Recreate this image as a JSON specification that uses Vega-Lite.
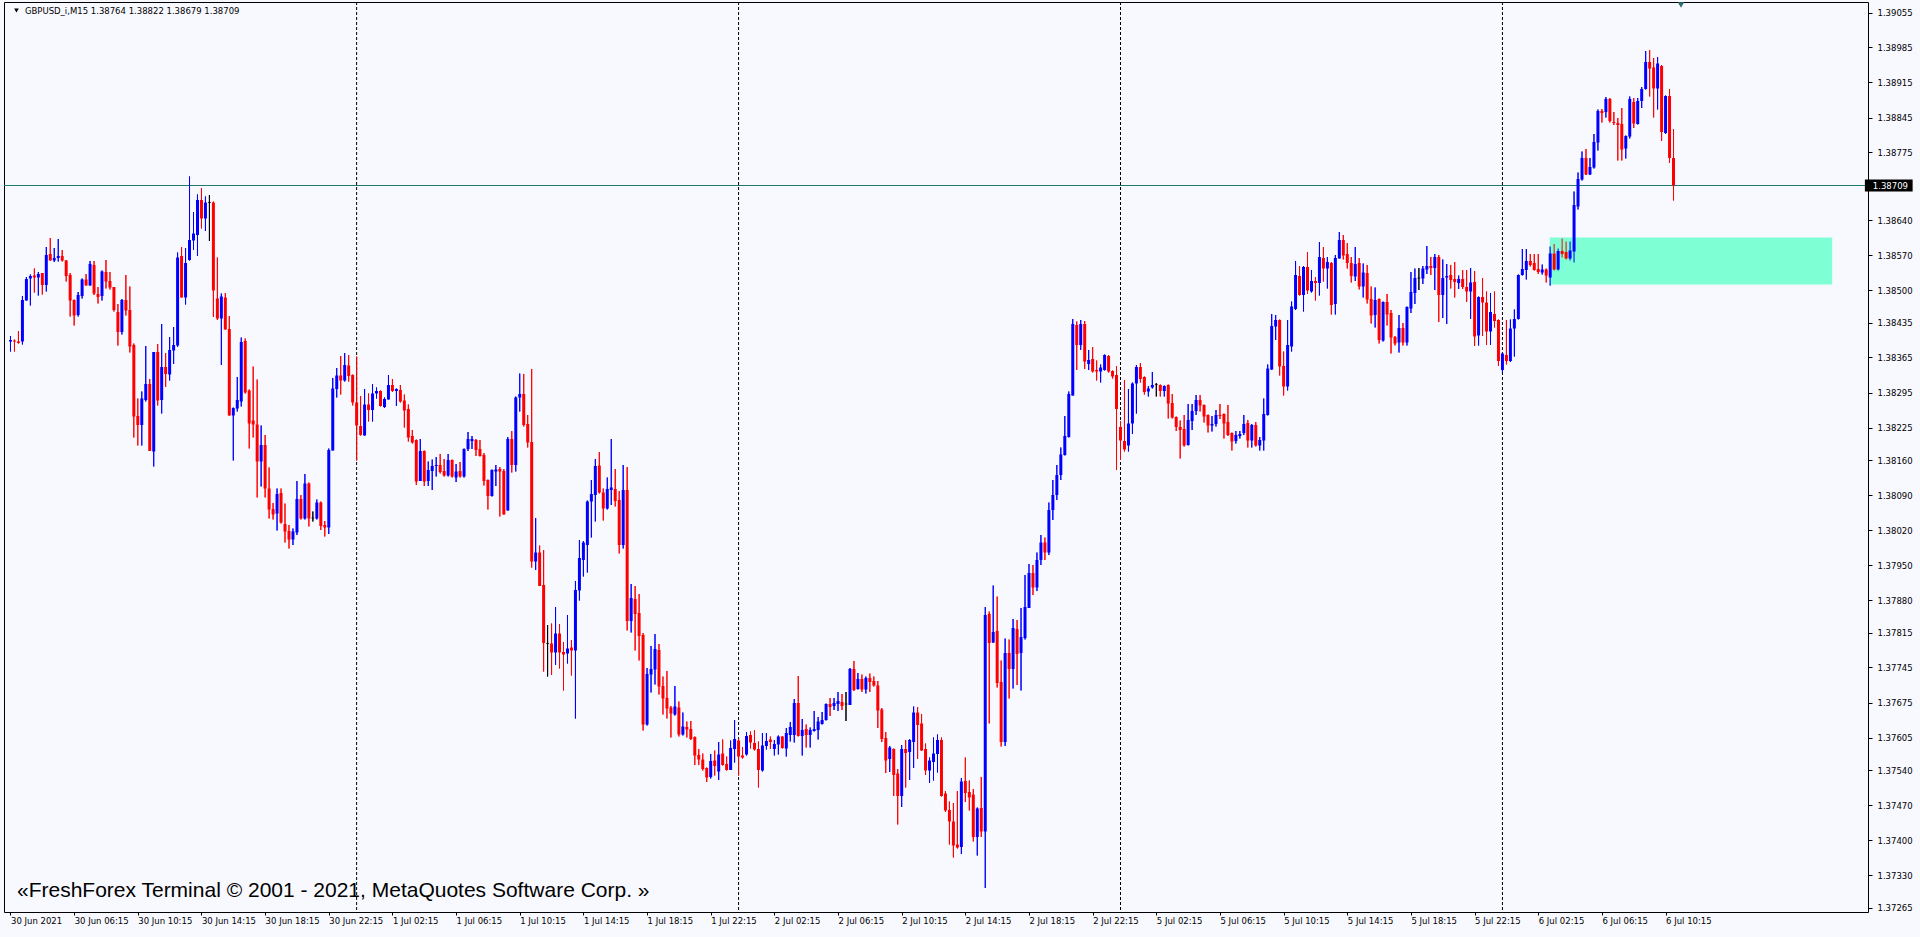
{
"$schema": "https://vega.github.io/schema/vega-lite/v6.json",
"width": 1864, "height": 910,
"autosize": {"type": "none"},
"padding": {"left": 4, "top": 2, "right": 52, "bottom": 25},
"background": "#F8F8FF",
"config": {"view": {"stroke": "#000000", "strokeWidth": 1, "fill": "#F8F8FF"}},
"datasets": {
"candles": [
{"i":0,"o":1.38397,"h":1.38408,"l":1.38377,"c":1.38400},
{"i":1,"o":1.38399,"h":1.38401,"l":1.38377,"c":1.38397},
{"i":2,"o":1.38397,"h":1.38418,"l":1.38393,"c":1.38394},
{"i":3,"o":1.38397,"h":1.38488,"l":1.38391,"c":1.38480},
{"i":4,"o":1.38479,"h":1.38526,"l":1.38479,"c":1.38522},
{"i":5,"o":1.38523,"h":1.38531,"l":1.38469,"c":1.38528},
{"i":6,"o":1.38529,"h":1.38543,"l":1.38495,"c":1.38525},
{"i":7,"o":1.38525,"h":1.38536,"l":1.38489,"c":1.38532},
{"i":8,"o":1.38534,"h":1.38534,"l":1.38491,"c":1.38510},
{"i":9,"o":1.38510,"h":1.38586,"l":1.38497,"c":1.38570},
{"i":10,"o":1.38572,"h":1.38604,"l":1.38559,"c":1.38559},
{"i":11,"o":1.38559,"h":1.38584,"l":1.38556,"c":1.38564},
{"i":12,"o":1.38564,"h":1.38602,"l":1.38557,"c":1.38568},
{"i":13,"o":1.38568,"h":1.38580,"l":1.38557,"c":1.38559},
{"i":14,"o":1.38559,"h":1.38560,"l":1.38517,"c":1.38528},
{"i":15,"o":1.38530,"h":1.38534,"l":1.38447,"c":1.38479},
{"i":16,"o":1.38480,"h":1.38481,"l":1.38429,"c":1.38449},
{"i":17,"o":1.38450,"h":1.38496,"l":1.38447,"c":1.38490},
{"i":18,"o":1.38488,"h":1.38523,"l":1.38483,"c":1.38521},
{"i":19,"o":1.38521,"h":1.38532,"l":1.38509,"c":1.38509},
{"i":20,"o":1.38509,"h":1.38558,"l":1.38509,"c":1.38552},
{"i":21,"o":1.38550,"h":1.38558,"l":1.38490,"c":1.38493},
{"i":22,"o":1.38492,"h":1.38506,"l":1.38473,"c":1.38486},
{"i":23,"o":1.38488,"h":1.38539,"l":1.38479,"c":1.38537},
{"i":24,"o":1.38536,"h":1.38560,"l":1.38503,"c":1.38517},
{"i":25,"o":1.38518,"h":1.38536,"l":1.38501,"c":1.38505},
{"i":26,"o":1.38506,"h":1.38506,"l":1.38457,"c":1.38460},
{"i":27,"o":1.38456,"h":1.38472,"l":1.38389,"c":1.38416},
{"i":28,"o":1.38416,"h":1.38482,"l":1.38411,"c":1.38480},
{"i":29,"o":1.38480,"h":1.38530,"l":1.38449,"c":1.38459},
{"i":30,"o":1.38460,"h":1.38507,"l":1.38375,"c":1.38387},
{"i":31,"o":1.38390,"h":1.38393,"l":1.38205,"c":1.38247},
{"i":32,"o":1.38248,"h":1.38283,"l":1.38189,"c":1.38230},
{"i":33,"o":1.38230,"h":1.38297,"l":1.38189,"c":1.38283},
{"i":34,"o":1.38280,"h":1.38388,"l":1.38277,"c":1.38312},
{"i":35,"o":1.38312,"h":1.38322,"l":1.38178,"c":1.38178},
{"i":36,"o":1.38177,"h":1.38376,"l":1.38147,"c":1.38376},
{"i":37,"o":1.38376,"h":1.38392,"l":1.38269,"c":1.38279},
{"i":38,"o":1.38280,"h":1.38432,"l":1.38253,"c":1.38346},
{"i":39,"o":1.38346,"h":1.38374,"l":1.38306,"c":1.38332},
{"i":40,"o":1.38331,"h":1.38406,"l":1.38319,"c":1.38380},
{"i":41,"o":1.38379,"h":1.38426,"l":1.38352,"c":1.38390},
{"i":42,"o":1.38389,"h":1.38575,"l":1.38386,"c":1.38565},
{"i":43,"o":1.38568,"h":1.38586,"l":1.38485,"c":1.38485},
{"i":44,"o":1.38485,"h":1.38584,"l":1.38471,"c":1.38554},
{"i":45,"o":1.38560,"h":1.38727,"l":1.38559,"c":1.38600},
{"i":46,"o":1.38599,"h":1.38656,"l":1.38580,"c":1.38613},
{"i":47,"o":1.38610,"h":1.38691,"l":1.38568,"c":1.38680},
{"i":48,"o":1.38680,"h":1.38704,"l":1.38623,"c":1.38643},
{"i":49,"o":1.38643,"h":1.38687,"l":1.38618,"c":1.38675},
{"i":50,"o":1.38675,"h":1.38690,"l":1.38598,"c":1.38675},
{"i":51,"o":1.38675,"h":1.38677,"l":1.38446,"c":1.38499},
{"i":52,"o":1.38483,"h":1.38565,"l":1.38440,"c":1.38443},
{"i":53,"o":1.38443,"h":1.38493,"l":1.38350,"c":1.38487},
{"i":54,"o":1.38485,"h":1.38494,"l":1.38421,"c":1.38421},
{"i":55,"o":1.38422,"h":1.38448,"l":1.38249,"c":1.38249},
{"i":56,"o":1.38249,"h":1.38265,"l":1.38159,"c":1.38264},
{"i":57,"o":1.38263,"h":1.38326,"l":1.38257,"c":1.38280},
{"i":58,"o":1.38277,"h":1.38405,"l":1.38267,"c":1.38396},
{"i":59,"o":1.38398,"h":1.38403,"l":1.38293,"c":1.38295},
{"i":60,"o":1.38299,"h":1.38301,"l":1.38183,"c":1.38233},
{"i":61,"o":1.38239,"h":1.38347,"l":1.38205,"c":1.38231},
{"i":62,"o":1.38231,"h":1.38321,"l":1.38085,"c":1.38157},
{"i":63,"o":1.38157,"h":1.38229,"l":1.38107,"c":1.38190},
{"i":64,"o":1.38190,"h":1.38210,"l":1.38085,"c":1.38103},
{"i":65,"o":1.38103,"h":1.38145,"l":1.38043,"c":1.38061},
{"i":66,"o":1.38062,"h":1.38074,"l":1.38041,"c":1.38051},
{"i":67,"o":1.38053,"h":1.38103,"l":1.38019,"c":1.38092},
{"i":68,"o":1.38094,"h":1.38103,"l":1.38033,"c":1.38035},
{"i":69,"o":1.38032,"h":1.38073,"l":1.37995,"c":1.38017},
{"i":70,"o":1.38018,"h":1.38030,"l":1.37983,"c":1.38001},
{"i":71,"o":1.38001,"h":1.38023,"l":1.37990,"c":1.38017},
{"i":72,"o":1.38015,"h":1.38118,"l":1.38010,"c":1.38082},
{"i":73,"o":1.38082,"h":1.38090,"l":1.38041,"c":1.38043},
{"i":74,"o":1.38043,"h":1.38132,"l":1.38041,"c":1.38113},
{"i":75,"o":1.38113,"h":1.38115,"l":1.38027,"c":1.38043},
{"i":76,"o":1.38044,"h":1.38057,"l":1.38037,"c":1.38044},
{"i":77,"o":1.38043,"h":1.38081,"l":1.38041,"c":1.38075},
{"i":78,"o":1.38075,"h":1.38077,"l":1.38020,"c":1.38028},
{"i":79,"o":1.38030,"h":1.38038,"l":1.38007,"c":1.38025},
{"i":80,"o":1.38025,"h":1.38183,"l":1.38012,"c":1.38180},
{"i":81,"o":1.38179,"h":1.38324,"l":1.38179,"c":1.38303},
{"i":82,"o":1.38302,"h":1.38344,"l":1.38285,"c":1.38329},
{"i":83,"o":1.38329,"h":1.38368,"l":1.38291,"c":1.38319},
{"i":84,"o":1.38319,"h":1.38374,"l":1.38317,"c":1.38350},
{"i":85,"o":1.38349,"h":1.38370,"l":1.38317,"c":1.38328},
{"i":86,"o":1.38330,"h":1.38331,"l":1.38269,"c":1.38275},
{"i":87,"o":1.38275,"h":1.38367,"l":1.38159,"c":1.38229},
{"i":88,"o":1.38228,"h":1.38288,"l":1.38209,"c":1.38210},
{"i":89,"o":1.38209,"h":1.38302,"l":1.38209,"c":1.38271},
{"i":90,"o":1.38271,"h":1.38293,"l":1.38237,"c":1.38260},
{"i":91,"o":1.38260,"h":1.38312,"l":1.38237,"c":1.38293},
{"i":92,"o":1.38293,"h":1.38305,"l":1.38283,"c":1.38298},
{"i":93,"o":1.38298,"h":1.38299,"l":1.38267,"c":1.38268},
{"i":94,"o":1.38266,"h":1.38285,"l":1.38264,"c":1.38282},
{"i":95,"o":1.38281,"h":1.38330,"l":1.38281,"c":1.38310},
{"i":96,"o":1.38310,"h":1.38322,"l":1.38296,"c":1.38298},
{"i":97,"o":1.38298,"h":1.38303,"l":1.38268,"c":1.38302},
{"i":98,"o":1.38300,"h":1.38310,"l":1.38275,"c":1.38277},
{"i":99,"o":1.38279,"h":1.38291,"l":1.38225,"c":1.38259},
{"i":100,"o":1.38262,"h":1.38271,"l":1.38197,"c":1.38205},
{"i":101,"o":1.38208,"h":1.38220,"l":1.38193,"c":1.38195},
{"i":102,"o":1.38200,"h":1.38201,"l":1.38110,"c":1.38117},
{"i":103,"o":1.38118,"h":1.38202,"l":1.38118,"c":1.38178},
{"i":104,"o":1.38178,"h":1.38179,"l":1.38108,"c":1.38117},
{"i":105,"o":1.38118,"h":1.38157,"l":1.38108,"c":1.38140},
{"i":106,"o":1.38138,"h":1.38161,"l":1.38100,"c":1.38148},
{"i":107,"o":1.38148,"h":1.38166,"l":1.38127,"c":1.38150},
{"i":108,"o":1.38150,"h":1.38172,"l":1.38133,"c":1.38136},
{"i":109,"o":1.38138,"h":1.38162,"l":1.38127,"c":1.38129},
{"i":110,"o":1.38129,"h":1.38172,"l":1.38127,"c":1.38160},
{"i":111,"o":1.38160,"h":1.38161,"l":1.38125,"c":1.38127},
{"i":112,"o":1.38125,"h":1.38152,"l":1.38116,"c":1.38137},
{"i":113,"o":1.38138,"h":1.38156,"l":1.38125,"c":1.38127},
{"i":114,"o":1.38127,"h":1.38183,"l":1.38125,"c":1.38182},
{"i":115,"o":1.38182,"h":1.38216,"l":1.38178,"c":1.38202},
{"i":116,"o":1.38198,"h":1.38208,"l":1.38182,"c":1.38202},
{"i":117,"o":1.38200,"h":1.38202,"l":1.38168,"c":1.38180},
{"i":118,"o":1.38182,"h":1.38200,"l":1.38167,"c":1.38168},
{"i":119,"o":1.38170,"h":1.38174,"l":1.38109,"c":1.38118},
{"i":120,"o":1.38120,"h":1.38121,"l":1.38061,"c":1.38088},
{"i":121,"o":1.38088,"h":1.38141,"l":1.38087,"c":1.38140},
{"i":122,"o":1.38137,"h":1.38150,"l":1.38108,"c":1.38141},
{"i":123,"o":1.38142,"h":1.38146,"l":1.38047,"c":1.38137},
{"i":124,"o":1.38138,"h":1.38142,"l":1.38051,"c":1.38051},
{"i":125,"o":1.38059,"h":1.38206,"l":1.38059,"c":1.38202},
{"i":126,"o":1.38202,"h":1.38218,"l":1.38135,"c":1.38150},
{"i":127,"o":1.38150,"h":1.38287,"l":1.38137,"c":1.38285},
{"i":128,"o":1.38285,"h":1.38333,"l":1.38257,"c":1.38292},
{"i":129,"o":1.38292,"h":1.38332,"l":1.38227,"c":1.38230},
{"i":130,"o":1.38232,"h":1.38250,"l":1.38185,"c":1.38195},
{"i":131,"o":1.38196,"h":1.38342,"l":1.37945,"c":1.37957},
{"i":132,"o":1.37957,"h":1.38044,"l":1.37940,"c":1.37975},
{"i":133,"o":1.37975,"h":1.37989,"l":1.37908,"c":1.37908},
{"i":134,"o":1.37910,"h":1.37980,"l":1.37737,"c":1.37794},
{"i":135,"o":1.37793,"h":1.37830,"l":1.37727,"c":1.37793},
{"i":136,"o":1.37793,"h":1.37833,"l":1.37730,"c":1.37775},
{"i":137,"o":1.37775,"h":1.37866,"l":1.37750,"c":1.37813},
{"i":138,"o":1.37813,"h":1.37832,"l":1.37743,"c":1.37775},
{"i":139,"o":1.37776,"h":1.37796,"l":1.37699,"c":1.37771},
{"i":140,"o":1.37773,"h":1.37850,"l":1.37753,"c":1.37783},
{"i":141,"o":1.37785,"h":1.37800,"l":1.37729,"c":1.37779},
{"i":142,"o":1.37779,"h":1.37918,"l":1.37643,"c":1.37900},
{"i":143,"o":1.37899,"h":1.38000,"l":1.37879,"c":1.37964},
{"i":144,"o":1.37960,"h":1.37998,"l":1.37927,"c":1.37995},
{"i":145,"o":1.37990,"h":1.38079,"l":1.37935,"c":1.38077},
{"i":146,"o":1.38077,"h":1.38120,"l":1.38005,"c":1.38092},
{"i":147,"o":1.38090,"h":1.38162,"l":1.38037,"c":1.38148},
{"i":148,"o":1.38149,"h":1.38176,"l":1.38093,"c":1.38095},
{"i":149,"o":1.38095,"h":1.38103,"l":1.38039,"c":1.38063},
{"i":150,"o":1.38063,"h":1.38125,"l":1.38061,"c":1.38102},
{"i":151,"o":1.38100,"h":1.38202,"l":1.38070,"c":1.38105},
{"i":152,"o":1.38102,"h":1.38142,"l":1.38067,"c":1.38078},
{"i":153,"o":1.38080,"h":1.38098,"l":1.37973,"c":1.37990},
{"i":154,"o":1.37990,"h":1.38150,"l":1.37983,"c":1.38100},
{"i":155,"o":1.38100,"h":1.38146,"l":1.37819,"c":1.37838},
{"i":156,"o":1.37838,"h":1.37912,"l":1.37815,"c":1.37884},
{"i":157,"o":1.37882,"h":1.37908,"l":1.37779,"c":1.37852},
{"i":158,"o":1.37854,"h":1.37892,"l":1.37759,"c":1.37808},
{"i":159,"o":1.37810,"h":1.37814,"l":1.37619,"c":1.37631},
{"i":160,"o":1.37631,"h":1.37744,"l":1.37629,"c":1.37732},
{"i":161,"o":1.37731,"h":1.37788,"l":1.37695,"c":1.37742},
{"i":162,"o":1.37741,"h":1.37812,"l":1.37711,"c":1.37782},
{"i":163,"o":1.37780,"h":1.37792,"l":1.37691,"c":1.37707},
{"i":164,"o":1.37708,"h":1.37727,"l":1.37651,"c":1.37683},
{"i":165,"o":1.37684,"h":1.37738,"l":1.37643,"c":1.37663},
{"i":166,"o":1.37665,"h":1.37668,"l":1.37605,"c":1.37653},
{"i":167,"o":1.37651,"h":1.37708,"l":1.37649,"c":1.37667},
{"i":168,"o":1.37665,"h":1.37677,"l":1.37607,"c":1.37611},
{"i":169,"o":1.37611,"h":1.37655,"l":1.37609,"c":1.37627},
{"i":170,"o":1.37626,"h":1.37637,"l":1.37605,"c":1.37621},
{"i":171,"o":1.37622,"h":1.37638,"l":1.37600,"c":1.37602},
{"i":172,"o":1.37606,"h":1.37607,"l":1.37550,"c":1.37569},
{"i":173,"o":1.37570,"h":1.37582,"l":1.37550,"c":1.37561},
{"i":174,"o":1.37561,"h":1.37573,"l":1.37539,"c":1.37542},
{"i":175,"o":1.37544,"h":1.37545,"l":1.37516,"c":1.37525},
{"i":176,"o":1.37526,"h":1.37572,"l":1.37523,"c":1.37558},
{"i":177,"o":1.37559,"h":1.37579,"l":1.37529,"c":1.37548},
{"i":178,"o":1.37537,"h":1.37596,"l":1.37520,"c":1.37571},
{"i":179,"o":1.37573,"h":1.37601,"l":1.37549,"c":1.37550},
{"i":180,"o":1.37552,"h":1.37567,"l":1.37539,"c":1.37540},
{"i":181,"o":1.37540,"h":1.37599,"l":1.37540,"c":1.37584},
{"i":182,"o":1.37582,"h":1.37640,"l":1.37555,"c":1.37602},
{"i":183,"o":1.37599,"h":1.37603,"l":1.37529,"c":1.37567},
{"i":184,"o":1.37569,"h":1.37586,"l":1.37563,"c":1.37565},
{"i":185,"o":1.37571,"h":1.37616,"l":1.37569,"c":1.37608},
{"i":186,"o":1.37610,"h":1.37617,"l":1.37583,"c":1.37595},
{"i":187,"o":1.37594,"h":1.37620,"l":1.37579,"c":1.37581},
{"i":188,"o":1.37582,"h":1.37597,"l":1.37505,"c":1.37540},
{"i":189,"o":1.37539,"h":1.37614,"l":1.37537,"c":1.37589},
{"i":190,"o":1.37588,"h":1.37614,"l":1.37581,"c":1.37598},
{"i":191,"o":1.37601,"h":1.37607,"l":1.37582,"c":1.37596},
{"i":192,"o":1.37582,"h":1.37600,"l":1.37569,"c":1.37592},
{"i":193,"o":1.37591,"h":1.37609,"l":1.37571,"c":1.37607},
{"i":194,"o":1.37607,"h":1.37608,"l":1.37583,"c":1.37584},
{"i":195,"o":1.37583,"h":1.37624,"l":1.37567,"c":1.37614},
{"i":196,"o":1.37610,"h":1.37636,"l":1.37597,"c":1.37626},
{"i":197,"o":1.37610,"h":1.37682,"l":1.37595,"c":1.37674},
{"i":198,"o":1.37674,"h":1.37728,"l":1.37607,"c":1.37608},
{"i":199,"o":1.37608,"h":1.37642,"l":1.37569,"c":1.37620},
{"i":200,"o":1.37622,"h":1.37631,"l":1.37585,"c":1.37610},
{"i":201,"o":1.37610,"h":1.37625,"l":1.37585,"c":1.37620},
{"i":202,"o":1.37618,"h":1.37658,"l":1.37617,"c":1.37622},
{"i":203,"o":1.37620,"h":1.37646,"l":1.37601,"c":1.37637},
{"i":204,"o":1.37632,"h":1.37656,"l":1.37631,"c":1.37640},
{"i":205,"o":1.37640,"h":1.37673,"l":1.37639,"c":1.37672},
{"i":206,"o":1.37672,"h":1.37684,"l":1.37648,"c":1.37666},
{"i":207,"o":1.37668,"h":1.37684,"l":1.37660,"c":1.37674},
{"i":208,"o":1.37672,"h":1.37696,"l":1.37658,"c":1.37678},
{"i":209,"o":1.37676,"h":1.37692,"l":1.37660,"c":1.37668},
{"i":210,"o":1.37672,"h":1.37696,"l":1.37638,"c":1.37672},
{"i":211,"o":1.37670,"h":1.37744,"l":1.37670,"c":1.37742},
{"i":212,"o":1.37742,"h":1.37758,"l":1.37698,"c":1.37700},
{"i":213,"o":1.37702,"h":1.37734,"l":1.37701,"c":1.37722},
{"i":214,"o":1.37722,"h":1.37731,"l":1.37696,"c":1.37701},
{"i":215,"o":1.37701,"h":1.37727,"l":1.37693,"c":1.37724},
{"i":216,"o":1.37724,"h":1.37733,"l":1.37696,"c":1.37716},
{"i":217,"o":1.37718,"h":1.37727,"l":1.37707,"c":1.37709},
{"i":218,"o":1.37709,"h":1.37718,"l":1.37624,"c":1.37659},
{"i":219,"o":1.37661,"h":1.37664,"l":1.37596,"c":1.37602},
{"i":220,"o":1.37604,"h":1.37616,"l":1.37534,"c":1.37559},
{"i":221,"o":1.37562,"h":1.37588,"l":1.37536,"c":1.37585},
{"i":222,"o":1.37582,"h":1.37583,"l":1.37488,"c":1.37530},
{"i":223,"o":1.37533,"h":1.37542,"l":1.37431,"c":1.37488},
{"i":224,"o":1.37488,"h":1.37590,"l":1.37466,"c":1.37582},
{"i":225,"o":1.37582,"h":1.37600,"l":1.37505,"c":1.37574},
{"i":226,"o":1.37576,"h":1.37602,"l":1.37520,"c":1.37600},
{"i":227,"o":1.37596,"h":1.37667,"l":1.37544,"c":1.37655},
{"i":228,"o":1.37655,"h":1.37666,"l":1.37562,"c":1.37630},
{"i":229,"o":1.37633,"h":1.37652,"l":1.37578,"c":1.37579},
{"i":230,"o":1.37582,"h":1.37593,"l":1.37530,"c":1.37539},
{"i":231,"o":1.37539,"h":1.37565,"l":1.37514,"c":1.37559},
{"i":232,"o":1.37556,"h":1.37605,"l":1.37519,"c":1.37573},
{"i":233,"o":1.37572,"h":1.37611,"l":1.37535,"c":1.37600},
{"i":234,"o":1.37600,"h":1.37605,"l":1.37487,"c":1.37488},
{"i":235,"o":1.37493,"h":1.37498,"l":1.37456,"c":1.37459},
{"i":236,"o":1.37460,"h":1.37477,"l":1.37391,"c":1.37437},
{"i":237,"o":1.37437,"h":1.37474,"l":1.37365,"c":1.37389},
{"i":238,"o":1.37391,"h":1.37498,"l":1.37383,"c":1.37385},
{"i":239,"o":1.37386,"h":1.37524,"l":1.37372,"c":1.37517},
{"i":240,"o":1.37518,"h":1.37565,"l":1.37476,"c":1.37494},
{"i":241,"o":1.37496,"h":1.37519,"l":1.37459,"c":1.37485},
{"i":242,"o":1.37491,"h":1.37502,"l":1.37397,"c":1.37406},
{"i":243,"o":1.37406,"h":1.37465,"l":1.37369,"c":1.37463},
{"i":244,"o":1.37464,"h":1.37526,"l":1.37406,"c":1.37417},
{"i":245,"o":1.37417,"h":1.37866,"l":1.37304,"c":1.37850},
{"i":246,"o":1.37852,"h":1.37857,"l":1.37633,"c":1.37794},
{"i":247,"o":1.37795,"h":1.37909,"l":1.37794,"c":1.37816},
{"i":248,"o":1.37818,"h":1.37887,"l":1.37705,"c":1.37714},
{"i":249,"o":1.37716,"h":1.37759,"l":1.37587,"c":1.37596},
{"i":250,"o":1.37596,"h":1.37803,"l":1.37588,"c":1.37774},
{"i":251,"o":1.37774,"h":1.37801,"l":1.37683,"c":1.37742},
{"i":252,"o":1.37742,"h":1.37842,"l":1.37703,"c":1.37824},
{"i":253,"o":1.37822,"h":1.37840,"l":1.37710,"c":1.37772},
{"i":254,"o":1.37774,"h":1.37864,"l":1.37699,"c":1.37806},
{"i":255,"o":1.37804,"h":1.37930,"l":1.37801,"c":1.37866},
{"i":256,"o":1.37864,"h":1.37952,"l":1.37864,"c":1.37934},
{"i":257,"o":1.37934,"h":1.37950,"l":1.37890,"c":1.37905},
{"i":258,"o":1.37905,"h":1.37975,"l":1.37898,"c":1.37960},
{"i":259,"o":1.37960,"h":1.38010,"l":1.37950,"c":1.37995},
{"i":260,"o":1.37995,"h":1.38005,"l":1.37960,"c":1.37975},
{"i":261,"o":1.37975,"h":1.38075,"l":1.37970,"c":1.38060},
{"i":262,"o":1.38060,"h":1.38120,"l":1.38040,"c":1.38090},
{"i":263,"o":1.38090,"h":1.38150,"l":1.38080,"c":1.38130},
{"i":264,"o":1.38130,"h":1.38185,"l":1.38120,"c":1.38171},
{"i":265,"o":1.38170,"h":1.38248,"l":1.38169,"c":1.38208},
{"i":266,"o":1.38206,"h":1.38297,"l":1.38205,"c":1.38292},
{"i":267,"o":1.38289,"h":1.38442,"l":1.38289,"c":1.38432},
{"i":268,"o":1.38430,"h":1.38437,"l":1.38340,"c":1.38390},
{"i":269,"o":1.38390,"h":1.38440,"l":1.38380,"c":1.38432},
{"i":270,"o":1.38432,"h":1.38438,"l":1.38342,"c":1.38357},
{"i":271,"o":1.38352,"h":1.38380,"l":1.38340,"c":1.38360},
{"i":272,"o":1.38362,"h":1.38386,"l":1.38335,"c":1.38337},
{"i":273,"o":1.38340,"h":1.38359,"l":1.38319,"c":1.38337},
{"i":274,"o":1.38337,"h":1.38351,"l":1.38315,"c":1.38345},
{"i":275,"o":1.38340,"h":1.38371,"l":1.38339,"c":1.38370},
{"i":276,"o":1.38368,"h":1.38370,"l":1.38335,"c":1.38337},
{"i":277,"o":1.38338,"h":1.38339,"l":1.38323,"c":1.38327},
{"i":278,"o":1.38330,"h":1.38348,"l":1.38140,"c":1.38262},
{"i":279,"o":1.38226,"h":1.38238,"l":1.38160,"c":1.38199},
{"i":280,"o":1.38198,"h":1.38320,"l":1.38177,"c":1.38181},
{"i":281,"o":1.38189,"h":1.38302,"l":1.38177,"c":1.38233},
{"i":282,"o":1.38233,"h":1.38315,"l":1.38212,"c":1.38313},
{"i":283,"o":1.38313,"h":1.38350,"l":1.38253,"c":1.38346},
{"i":284,"o":1.38346,"h":1.38354,"l":1.38315,"c":1.38322},
{"i":285,"o":1.38326,"h":1.38327,"l":1.38291,"c":1.38296},
{"i":286,"o":1.38297,"h":1.38308,"l":1.38287,"c":1.38303},
{"i":287,"o":1.38305,"h":1.38336,"l":1.38303,"c":1.38310},
{"i":288,"o":1.38311,"h":1.38314,"l":1.38287,"c":1.38311},
{"i":289,"o":1.38310,"h":1.38311,"l":1.38287,"c":1.38298},
{"i":290,"o":1.38298,"h":1.38309,"l":1.38287,"c":1.38308},
{"i":291,"o":1.38310,"h":1.38311,"l":1.38243,"c":1.38273},
{"i":292,"o":1.38274,"h":1.38292,"l":1.38243,"c":1.38245},
{"i":293,"o":1.38246,"h":1.38247,"l":1.38218,"c":1.38226},
{"i":294,"o":1.38226,"h":1.38239,"l":1.38163,"c":1.38220},
{"i":295,"o":1.38222,"h":1.38250,"l":1.38187,"c":1.38189},
{"i":296,"o":1.38190,"h":1.38272,"l":1.38189,"c":1.38240},
{"i":297,"o":1.38238,"h":1.38272,"l":1.38220,"c":1.38258},
{"i":298,"o":1.38258,"h":1.38290,"l":1.38250,"c":1.38280},
{"i":299,"o":1.38280,"h":1.38290,"l":1.38257,"c":1.38269},
{"i":300,"o":1.38270,"h":1.38271,"l":1.38235,"c":1.38247},
{"i":301,"o":1.38250,"h":1.38251,"l":1.38215,"c":1.38229},
{"i":302,"o":1.38229,"h":1.38248,"l":1.38217,"c":1.38232},
{"i":303,"o":1.38232,"h":1.38260,"l":1.38227,"c":1.38250},
{"i":304,"o":1.38250,"h":1.38272,"l":1.38242,"c":1.38248},
{"i":305,"o":1.38252,"h":1.38253,"l":1.38203,"c":1.38233},
{"i":306,"o":1.38236,"h":1.38270,"l":1.38208,"c":1.38210},
{"i":307,"o":1.38214,"h":1.38215,"l":1.38179,"c":1.38197},
{"i":308,"o":1.38198,"h":1.38218,"l":1.38193,"c":1.38210},
{"i":309,"o":1.38208,"h":1.38218,"l":1.38203,"c":1.38212},
{"i":310,"o":1.38214,"h":1.38250,"l":1.38210,"c":1.38232},
{"i":311,"o":1.38234,"h":1.38240,"l":1.38185,"c":1.38199},
{"i":312,"o":1.38199,"h":1.38232,"l":1.38185,"c":1.38230},
{"i":313,"o":1.38230,"h":1.38236,"l":1.38187,"c":1.38189},
{"i":314,"o":1.38189,"h":1.38206,"l":1.38179,"c":1.38200},
{"i":315,"o":1.38199,"h":1.38283,"l":1.38179,"c":1.38252},
{"i":316,"o":1.38250,"h":1.38351,"l":1.38249,"c":1.38343},
{"i":317,"o":1.38341,"h":1.38452,"l":1.38340,"c":1.38428},
{"i":318,"o":1.38427,"h":1.38450,"l":1.38400,"c":1.38440},
{"i":319,"o":1.38440,"h":1.38441,"l":1.38329,"c":1.38347},
{"i":320,"o":1.38348,"h":1.38377,"l":1.38289,"c":1.38307},
{"i":321,"o":1.38307,"h":1.38440,"l":1.38299,"c":1.38390},
{"i":322,"o":1.38387,"h":1.38477,"l":1.38377,"c":1.38467},
{"i":323,"o":1.38462,"h":1.38558,"l":1.38460,"c":1.38530},
{"i":324,"o":1.38528,"h":1.38548,"l":1.38489,"c":1.38490},
{"i":325,"o":1.38490,"h":1.38548,"l":1.38457,"c":1.38546},
{"i":326,"o":1.38546,"h":1.38576,"l":1.38492,"c":1.38499},
{"i":327,"o":1.38497,"h":1.38540,"l":1.38495,"c":1.38518},
{"i":328,"o":1.38518,"h":1.38526,"l":1.38479,"c":1.38514},
{"i":329,"o":1.38514,"h":1.38596,"l":1.38489,"c":1.38566},
{"i":330,"o":1.38564,"h":1.38586,"l":1.38517,"c":1.38543},
{"i":331,"o":1.38543,"h":1.38566,"l":1.38503,"c":1.38556},
{"i":332,"o":1.38554,"h":1.38556,"l":1.38451,"c":1.38470},
{"i":333,"o":1.38472,"h":1.38570,"l":1.38451,"c":1.38564},
{"i":334,"o":1.38563,"h":1.38616,"l":1.38563,"c":1.38600},
{"i":335,"o":1.38600,"h":1.38610,"l":1.38561,"c":1.38569},
{"i":336,"o":1.38572,"h":1.38594,"l":1.38543,"c":1.38554},
{"i":337,"o":1.38554,"h":1.38566,"l":1.38515,"c":1.38528},
{"i":338,"o":1.38527,"h":1.38586,"l":1.38518,"c":1.38552},
{"i":339,"o":1.38554,"h":1.38564,"l":1.38501,"c":1.38507},
{"i":340,"o":1.38507,"h":1.38553,"l":1.38485,"c":1.38535},
{"i":341,"o":1.38534,"h":1.38550,"l":1.38473,"c":1.38481},
{"i":342,"o":1.38482,"h":1.38507,"l":1.38433,"c":1.38449},
{"i":343,"o":1.38450,"h":1.38505,"l":1.38425,"c":1.38480},
{"i":344,"o":1.38482,"h":1.38483,"l":1.38393,"c":1.38400},
{"i":345,"o":1.38399,"h":1.38477,"l":1.38397,"c":1.38476},
{"i":346,"o":1.38476,"h":1.38492,"l":1.38429,"c":1.38451},
{"i":347,"o":1.38454,"h":1.38460,"l":1.38373,"c":1.38405},
{"i":348,"o":1.38406,"h":1.38408,"l":1.38389,"c":1.38393},
{"i":349,"o":1.38395,"h":1.38450,"l":1.38375,"c":1.38424},
{"i":350,"o":1.38424,"h":1.38434,"l":1.38389,"c":1.38395},
{"i":351,"o":1.38395,"h":1.38467,"l":1.38389,"c":1.38466},
{"i":352,"o":1.38463,"h":1.38536,"l":1.38454,"c":1.38496},
{"i":353,"o":1.38494,"h":1.38543,"l":1.38472,"c":1.38524},
{"i":354,"o":1.38524,"h":1.38544,"l":1.38500,"c":1.38524},
{"i":355,"o":1.38523,"h":1.38548,"l":1.38512,"c":1.38543},
{"i":356,"o":1.38541,"h":1.38588,"l":1.38532,"c":1.38548},
{"i":357,"o":1.38548,"h":1.38566,"l":1.38530,"c":1.38544},
{"i":358,"o":1.38544,"h":1.38572,"l":1.38500,"c":1.38566},
{"i":359,"o":1.38566,"h":1.38570,"l":1.38436,"c":1.38490},
{"i":360,"o":1.38490,"h":1.38561,"l":1.38444,"c":1.38524},
{"i":361,"o":1.38525,"h":1.38552,"l":1.38432,"c":1.38528},
{"i":362,"o":1.38530,"h":1.38550,"l":1.38503,"c":1.38520},
{"i":363,"o":1.38522,"h":1.38556,"l":1.38485,"c":1.38516},
{"i":364,"o":1.38514,"h":1.38529,"l":1.38502,"c":1.38522},
{"i":365,"o":1.38522,"h":1.38540,"l":1.38502,"c":1.38506},
{"i":366,"o":1.38506,"h":1.38540,"l":1.38476,"c":1.38497},
{"i":367,"o":1.38497,"h":1.38544,"l":1.38442,"c":1.38515},
{"i":368,"o":1.38516,"h":1.38538,"l":1.38388,"c":1.38407},
{"i":369,"o":1.38409,"h":1.38487,"l":1.38389,"c":1.38486},
{"i":370,"o":1.38486,"h":1.38524,"l":1.38408,"c":1.38475},
{"i":371,"o":1.38475,"h":1.38497,"l":1.38390,"c":1.38417},
{"i":372,"o":1.38417,"h":1.38494,"l":1.38390,"c":1.38456},
{"i":373,"o":1.38452,"h":1.38497,"l":1.38425,"c":1.38438},
{"i":374,"o":1.38440,"h":1.38441,"l":1.38348,"c":1.38358},
{"i":375,"o":1.38340,"h":1.38374,"l":1.38335,"c":1.38373},
{"i":376,"o":1.38370,"h":1.38440,"l":1.38351,"c":1.38358},
{"i":377,"o":1.38358,"h":1.38441,"l":1.38356,"c":1.38423},
{"i":378,"o":1.38423,"h":1.38461,"l":1.38367,"c":1.38442},
{"i":379,"o":1.38442,"h":1.38531,"l":1.38441,"c":1.38530},
{"i":380,"o":1.38530,"h":1.38582,"l":1.38529,"c":1.38542},
{"i":381,"o":1.38540,"h":1.38582,"l":1.38521,"c":1.38558},
{"i":382,"o":1.38558,"h":1.38572,"l":1.38547,"c":1.38550},
{"i":383,"o":1.38554,"h":1.38572,"l":1.38539,"c":1.38540},
{"i":384,"o":1.38542,"h":1.38572,"l":1.38532,"c":1.38536},
{"i":385,"o":1.38535,"h":1.38551,"l":1.38531,"c":1.38541},
{"i":386,"o":1.38541,"h":1.38543,"l":1.38515,"c":1.38529},
{"i":387,"o":1.38525,"h":1.38587,"l":1.38509,"c":1.38573},
{"i":388,"o":1.38573,"h":1.38592,"l":1.38539,"c":1.38541},
{"i":389,"o":1.38541,"h":1.38583,"l":1.38539,"c":1.38578},
{"i":390,"o":1.38578,"h":1.38603,"l":1.38565,"c":1.38572},
{"i":391,"o":1.38576,"h":1.38597,"l":1.38561,"c":1.38563},
{"i":392,"o":1.38563,"h":1.38597,"l":1.38559,"c":1.38579},
{"i":393,"o":1.38577,"h":1.38697,"l":1.38555,"c":1.38670},
{"i":394,"o":1.38667,"h":1.38735,"l":1.38661,"c":1.38722},
{"i":395,"o":1.38721,"h":1.38777,"l":1.38719,"c":1.38764},
{"i":396,"o":1.38764,"h":1.38782,"l":1.38730,"c":1.38731},
{"i":397,"o":1.38731,"h":1.38764,"l":1.38730,"c":1.38746},
{"i":398,"o":1.38745,"h":1.38812,"l":1.38743,"c":1.38796},
{"i":399,"o":1.38795,"h":1.38861,"l":1.38779,"c":1.38858},
{"i":400,"o":1.38858,"h":1.38862,"l":1.38835,"c":1.38854},
{"i":401,"o":1.38856,"h":1.38886,"l":1.38845,"c":1.38882},
{"i":402,"o":1.38882,"h":1.38884,"l":1.38835,"c":1.38838},
{"i":403,"o":1.38836,"h":1.38856,"l":1.38830,"c":1.38834},
{"i":404,"o":1.38834,"h":1.38844,"l":1.38759,"c":1.38830},
{"i":405,"o":1.38832,"h":1.38864,"l":1.38759,"c":1.38781},
{"i":406,"o":1.38783,"h":1.38809,"l":1.38763,"c":1.38808},
{"i":407,"o":1.38807,"h":1.38887,"l":1.38803,"c":1.38882},
{"i":408,"o":1.38876,"h":1.38884,"l":1.38824,"c":1.38833},
{"i":409,"o":1.38832,"h":1.38884,"l":1.38831,"c":1.38878},
{"i":410,"o":1.38878,"h":1.38906,"l":1.38864,"c":1.38902},
{"i":411,"o":1.38902,"h":1.38978,"l":1.38901,"c":1.38956},
{"i":412,"o":1.38956,"h":1.38980,"l":1.38887,"c":1.38943},
{"i":413,"o":1.38945,"h":1.38964,"l":1.38845,"c":1.38903},
{"i":414,"o":1.38903,"h":1.38966,"l":1.38861,"c":1.38953},
{"i":415,"o":1.38948,"h":1.38950,"l":1.38798,"c":1.38816},
{"i":416,"o":1.38814,"h":1.38889,"l":1.38812,"c":1.38888},
{"i":417,"o":1.38888,"h":1.38902,"l":1.38754,"c":1.38764},
{"i":418,"o":1.38764,"h":1.38822,"l":1.38679,"c":1.38709}
],
"zone": [{"x1": 386.875, "x2": 457.875, "top": 1.38605, "bot": 1.38511}],
"seps": [{"i": 87}, {"i": 183}, {"i": 279}, {"i": 375}],
"last": [{"p": 1.38709, "lbl": "1.38709"}]
},
"layer": [
{"data": {"name": "candles"}, "mark": {"type": "rule", "strokeWidth": 1},
 "encoding": {
  "x": {"field": "i", "type": "quantitative", "title": null, "scale": {"domain": [-0.375, 465.625], "nice": false, "zero": false},
   "axis": {"values": [0,16,32,48,64,80,96,112,128,144,160,176,192,208,224,240,256,272,288,304,320,336,352,368,384,400,416],
    "tickCount": 60,
    "labelExpr": "['30 Jun 2021','30 Jun 06:15','30 Jun 10:15','30 Jun 14:15','30 Jun 18:15','30 Jun 22:15','1 Jul 02:15','1 Jul 06:15','1 Jul 10:15','1 Jul 14:15','1 Jul 18:15','1 Jul 22:15','2 Jul 02:15','2 Jul 06:15','2 Jul 10:15','2 Jul 14:15','2 Jul 18:15','2 Jul 22:15','5 Jul 02:15','5 Jul 06:15','5 Jul 10:15','5 Jul 14:15','5 Jul 18:15','5 Jul 22:15','6 Jul 02:15','6 Jul 06:15','6 Jul 10:15'][round(datum.value/16)]",
    "labelAlign": "left", "labelBaseline": "top", "labelFont": "DejaVu Sans", "labelFontSize": 8.5, "labelColor": "#000000",
    "tickColor": "#000000", "tickSize": 3, "labelPadding": 1, "domain": false, "grid": false,
    "labelFlush": false, "labelOverlap": false, "labelBound": false}},
  "y": {"field": "l", "type": "quantitative", "title": null, "scale": {"domain": [1.37256, 1.39076], "nice": false, "zero": false},
   "axis": {"orient": "right", "format": ".5f", "tickCount": 60, "values": [1.39055,1.38985,1.38915,1.38845,1.38775,1.3864,1.3857,1.385,1.38435,1.38365,1.38295,1.38225,1.3816,1.3809,1.3802,1.3795,1.3788,1.37815,1.37745,1.37675,1.37605,1.3754,1.3747,1.374,1.3733,1.37265],
    "labelFont": "DejaVu Sans", "labelFontSize": 8.5, "labelColor": "#000000", "tickColor": "#000000", "tickSize": 4, "labelPadding": 5,
    "domain": false, "grid": false, "labelFlush": false, "labelOverlap": false, "labelBound": false}},
  "y2": {"field": "h"},
  "color": {"condition": [{"test": "datum.c > datum.o", "value": "#0000FF"}, {"test": "datum.c < datum.o", "value": "#FF0000"}], "value": "#000000"}}},
{"data": {"name": "zone"}, "mark": {"type": "rect", "color": "#7FFFD4"},
 "encoding": {
  "x": {"field": "x1", "type": "quantitative", "title": null},
  "x2": {"field": "x2"},
  "y": {"field": "top", "type": "quantitative", "title": null},
  "y2": {"field": "bot"}}},
{"data": {"name": "seps"}, "mark": {"type": "rule", "color": "#000000", "strokeWidth": 1, "strokeDash": [3, 2]},
 "encoding": {"x": {"field": "i", "type": "quantitative", "title": null}}},
{"data": {"name": "last"}, "mark": {"type": "rule", "color": "#1F7A72", "strokeWidth": 1},
 "encoding": {"y": {"field": "p", "type": "quantitative", "title": null}}},
{"data": {"name": "candles"}, "mark": {"type": "rule", "strokeWidth": 1},
 "encoding": {
  "x": {"field": "i", "type": "quantitative", "title": null},
  "y": {"field": "l", "type": "quantitative", "title": null},
  "y2": {"field": "h"},
  "color": {"condition": [{"test": "datum.c > datum.o", "value": "#0000FF"}, {"test": "datum.c < datum.o", "value": "#FF0000"}], "value": "#000000"}}},
{"data": {"name": "candles"}, "transform": [{"filter": "datum.o != datum.c"}],
 "mark": {"type": "bar", "width": 3},
 "encoding": {
  "x": {"field": "i", "type": "quantitative", "title": null},
  "y": {"field": "o", "type": "quantitative", "title": null},
  "y2": {"field": "c"},
  "color": {"condition": [{"test": "datum.c > datum.o", "value": "#0000FF"}, {"test": "datum.c < datum.o", "value": "#FF0000"}], "value": "#000000"}}},
{"data": {"name": "candles"}, "transform": [{"filter": "datum.o == datum.c"}],
 "mark": {"type": "tick", "orient": "horizontal", "size": 3, "thickness": 1, "color": "#000000"},
 "encoding": {
  "x": {"field": "i", "type": "quantitative", "title": null},
  "y": {"field": "c", "type": "quantitative", "title": null}}},
{"data": {"values": [{"sym": "GBPUSD_i,M15  1.38764 1.38822 1.38679 1.38709"}]},
 "mark": {"type": "text", "align": "left", "baseline": "middle", "font": "DejaVu Sans", "fontSize": 8.5, "color": "#000000"},
 "encoding": {
  "x": {"datum": 3.625, "type": "quantitative", "title": null},
  "y": {"datum": 1.39058, "type": "quantitative", "title": null},
  "text": {"field": "sym"}}},
{"data": {"values": [{"a": 1}]},
 "mark": {"type": "point", "shape": "triangle-down", "filled": true, "size": 22, "color": "#000000", "opacity": 1},
 "encoding": {
  "x": {"datum": 1.5, "type": "quantitative", "title": null},
  "y": {"datum": 1.39059, "type": "quantitative", "title": null}}},
{"data": {"values": [{"a": 1}]},
 "mark": {"type": "point", "shape": "triangle-down", "filled": true, "size": 40, "color": "#2F6F6F", "opacity": 1},
 "encoding": {
  "x": {"datum": 419.875, "type": "quantitative", "title": null},
  "y": {"datum": 1.39070, "type": "quantitative", "title": null}}},
{"data": {"values": [{"wm": "«FreshForex Terminal © 2001 - 2021, MetaQuotes Software Corp. »"}]},
 "mark": {"type": "text", "align": "left", "baseline": "middle", "font": "Liberation Sans", "fontSize": 21, "color": "#000000"},
 "encoding": {
  "x": {"datum": 1.625, "type": "quantitative", "title": null},
  "y": {"datum": 1.37298, "type": "quantitative", "title": null},
  "text": {"field": "wm"}}},
{"data": {"name": "last"},
 "mark": {"type": "rect", "color": "#000000"},
 "encoding": {
  "x": {"datum": 466.1, "type": "quantitative", "title": null},
  "x2": {"datum": 478.1},
  "y": {"datum": 1.38721, "type": "quantitative", "title": null},
  "y2": {"datum": 1.38697}}},
{"data": {"name": "last"},
 "mark": {"type": "text", "align": "left", "baseline": "middle", "font": "DejaVu Sans", "fontSize": 8.5, "color": "#FFFFFF"},
 "encoding": {
  "x": {"datum": 468.1, "type": "quantitative", "title": null},
  "y": {"field": "p", "type": "quantitative", "title": null},
  "text": {"field": "lbl"}}}
]
}
